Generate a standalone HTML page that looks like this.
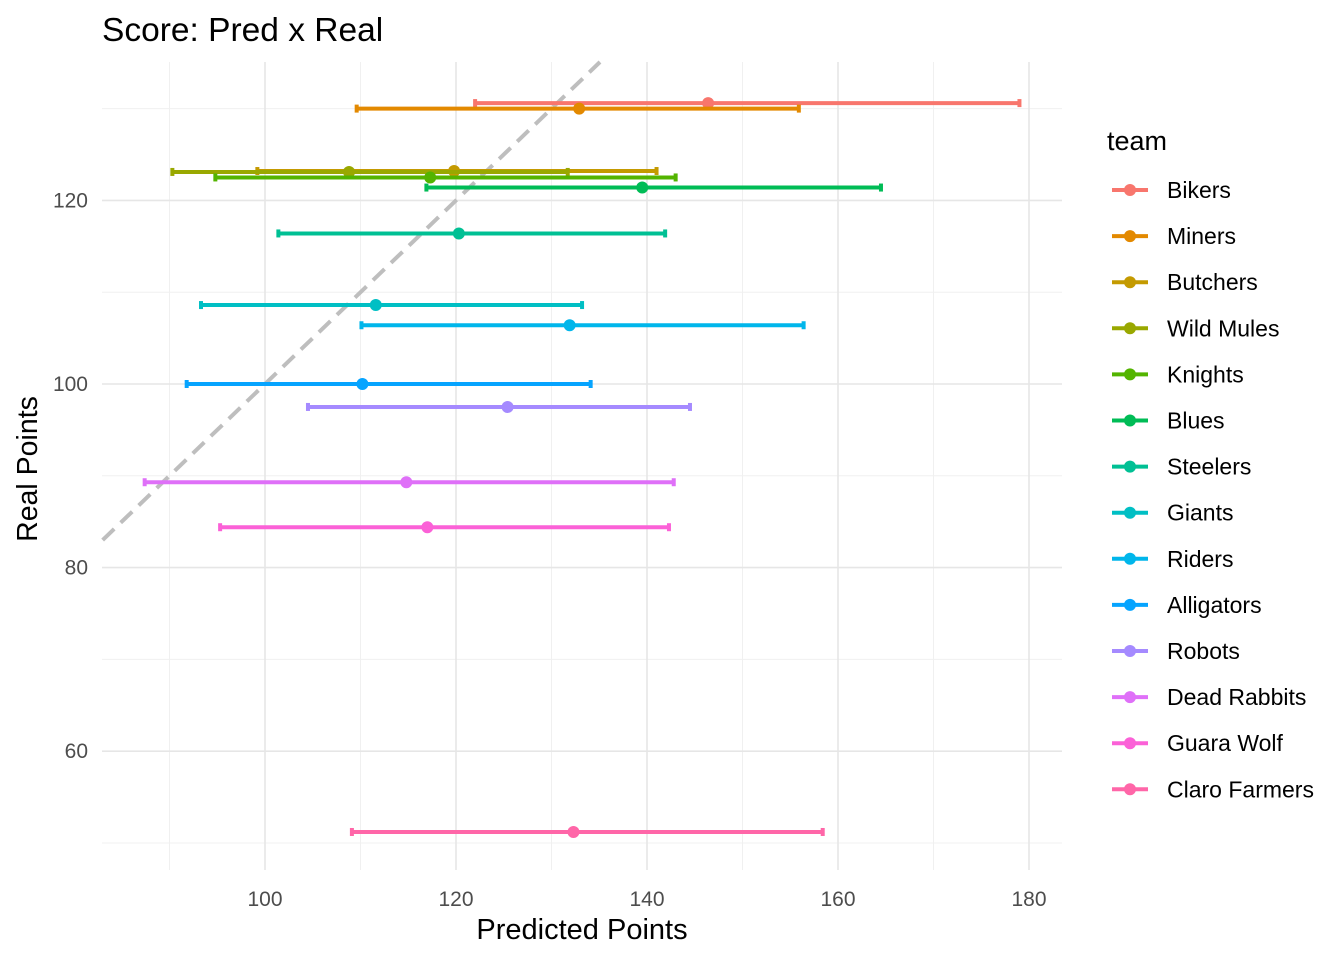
<!DOCTYPE html>
<html><head><meta charset="utf-8"><style>
body{margin:0;background:#fff;}
svg text{font-family:"Liberation Sans",Arial,sans-serif;}
</style></head><body>
<svg id="chart" width="1344" height="960" xmlns="http://www.w3.org/2000/svg">
<g id="grid"></g><g id="marks"></g><g id="axes"></g><g id="legend"></g>
<text x="102" y="41" font-size="33.5" fill="#000">Score: Pred x Real</text>
<text x="582" y="939" font-size="29" text-anchor="middle" fill="#000">Predicted Points</text>
<text x="37" y="469" font-size="28.5" text-anchor="middle" fill="#000" transform="rotate(-90 37 469)">Real Points</text>
</svg>
<script>
const teams=["Bikers","Miners","Butchers","Wild Mules","Knights","Blues","Steelers","Giants","Riders","Alligators","Robots","Dead Rabbits","Guara Wolf","Claro Farmers"];
const realPts=[130.6,130.0,123.2,123.1,122.5,121.4,116.4,108.6,106.4,100.0,97.5,89.3,84.4,51.2];
const predPts=[146.4,132.9,119.8,108.8,117.3,139.5,120.3,111.6,131.9,110.2,125.4,114.8,117.0,132.3];
const predMin=[122.0,109.6,99.2,90.3,94.8,116.9,101.4,93.3,110.1,91.8,104.5,87.4,95.3,109.1];
const predMax=[179.0,155.9,141.0,131.7,143.0,164.5,141.9,133.2,156.4,134.1,144.5,142.8,142.3,158.4];
const colors=["#F8766D","#E38900","#C49A00","#99A800","#53B400","#00BC56","#00C094","#00BFC4","#00B6EB","#06A4FF","#A58AFF","#DF70F8","#FB61D7","#FF66A8"];
const xTicks=[100,120,140,160,180];
const yTicks=[60,80,100,120];
const xMinor=[90,110,130,150,170];
const yMinor=[50,70,90,110,130];
const PL=102,PR=1062,PT=62,PB=870;
const xs=v=>265+(v-100)*9.55;
const ys=v=>384-(v-100)*9.18;
const NS="http://www.w3.org/2000/svg";
function mk(t,a,p){const e=document.createElementNS(NS,t);for(const k in a)e.setAttribute(k,a[k]);p.appendChild(e);return e;}
const G=document.getElementById('grid'),M=document.getElementById('marks'),A=document.getElementById('axes'),L=document.getElementById('legend');
xMinor.forEach(v=>{const e=mk('line',{x1:xs(v),x2:xs(v),y1:PT,y2:PB,stroke:'#f0f0f0','stroke-width':1},G);

});
yMinor.forEach(v=>{const e=mk('line',{x1:PL,x2:PR,y1:ys(v),y2:ys(v),stroke:'#f0f0f0','stroke-width':1},G);

});
xTicks.forEach(v=>{const e=mk('line',{x1:xs(v),x2:xs(v),y1:PT,y2:PB,stroke:'#e6e6e6','stroke-width':1.6},G);


const t=mk('text',{x:xs(v),y:906,'font-size':21,'text-anchor':'middle',fill:'#4d4d4d'},A);t.textContent=v;

});
yTicks.forEach(v=>{const e=mk('line',{x1:PL,x2:PR,y1:ys(v),y2:ys(v),stroke:'#e6e6e6','stroke-width':1.6},G);


const t=mk('text',{x:88,y:ys(v)+7,'font-size':21,'text-anchor':'end',fill:'#4d4d4d'},A);t.textContent=v;

});
const d0=83,d1=(PT-384)/-9.18+100;
const dl=mk('line',{x1:xs(d0),y1:ys(d0),x2:xs(d1),y2:ys(d1),stroke:'#bebebe','stroke-width':4,'stroke-dasharray':'16,9'},M);


teams.forEach((t,i)=>{const g=mk('g',{},M);


const y=ys(realPts[i]),c=colors[i];
mk('line',{x1:xs(predMin[i]),x2:xs(predMax[i]),y1:y,y2:y,stroke:c,'stroke-width':4},g);
mk('line',{x1:xs(predMin[i]),x2:xs(predMin[i]),y1:y-4,y2:y+4,stroke:c,'stroke-width':4},g);
mk('line',{x1:xs(predMax[i]),x2:xs(predMax[i]),y1:y-4,y2:y+4,stroke:c,'stroke-width':4},g);
mk('circle',{cx:xs(predPts[i]),cy:y,r:6,fill:c},g);});
const lt=mk('text',{x:1107,y:150,'font-size':27,fill:'#000'},L);lt.textContent='team';


teams.forEach((t,i)=>{const y=190+i*46.1;const g=mk('g',{},L);


mk('line',{x1:1112,x2:1148,y1:y,y2:y,stroke:colors[i],'stroke-width':4},g);
mk('circle',{cx:1130,cy:y,r:6,fill:colors[i]},g);
const tx=mk('text',{x:1167,y:y+8,'font-size':23,fill:'#000'},g);tx.textContent=t;});
</script>
</body></html>
